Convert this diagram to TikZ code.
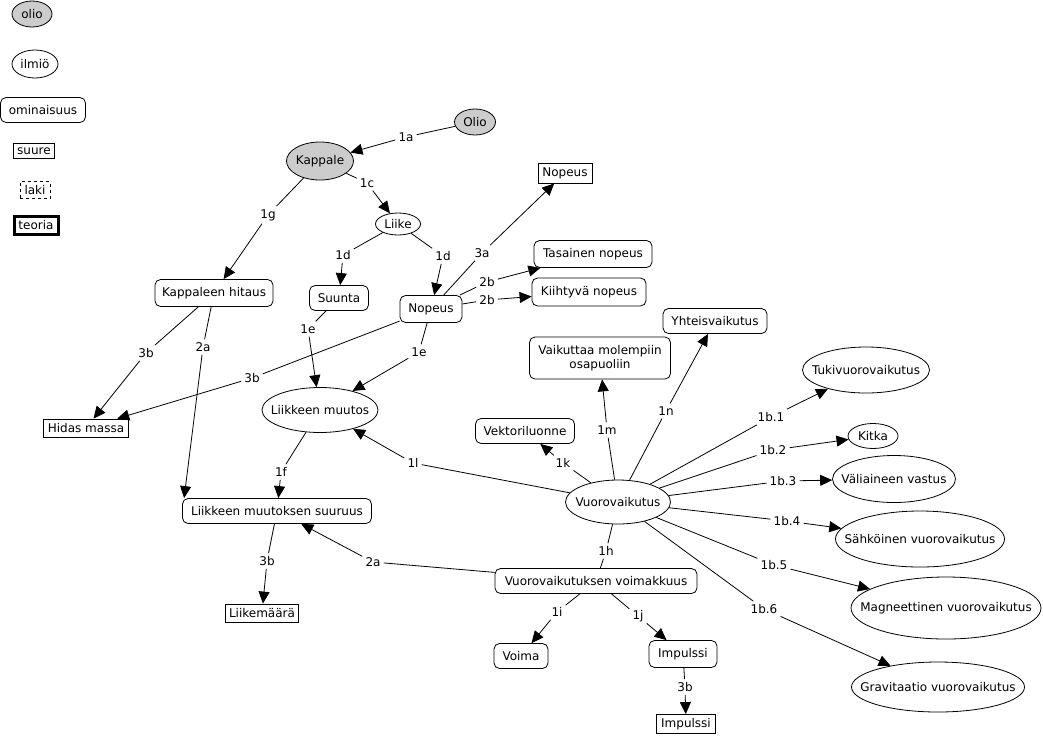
\documentclass[tikz,border=0pt]{standalone}
\usepackage{fontspec}
\setmainfont{DejaVu Sans}
\usetikzlibrary{arrows.meta,shapes.geometric,calc}
\definecolor{oliogray}{RGB}{204,204,204}
\newcommand\cedge[3]{\draw[ln] (#1) -- (#2); \draw[arr] (#2) -- (#3);}
\newcommand\ztext[1]{\makebox[0pt]{#1}}
\begin{document}
\begin{tikzpicture}[x=1pt,y=-1pt,
  every node/.style={font=\fontsize{12}{14}\selectfont},
  ell/.style={draw, ellipse, inner sep=0pt, line width=0.8pt},
  rbox/.style={draw, rounded corners=5.5pt, inner sep=0pt, line width=0.8pt},
  sbox/.style={draw, rectangle, inner sep=0pt, line width=0.8pt},
  lab/.style={inner sep=3pt},
  ln/.style={line width=0.8pt},
  arr/.style={line width=0.8pt, -{Triangle[length=12pt,width=11pt]}}]
\useasboundingbox[fill=white] (0,0) rectangle (1043,737);
% legend
\node[ell, fill=oliogray, minimum width=40pt, minimum height=26pt] (golio) at (32,14) {\ztext{olio}};
\node[ell, minimum width=46pt, minimum height=28pt] (gilmio) at (35,64) {\ztext{ilmiö}};
\node[rbox, minimum width=85pt, minimum height=25pt] (gomin) at (43,110) {ominaisuus};
\node[sbox, minimum width=41pt, minimum height=15pt] (gsuure) at (34,151) {suure};
\node[sbox, dashed, minimum width=30pt, minimum height=17pt] (glaki) at (35,190) {laki};
\node[sbox, line width=3pt, minimum width=44pt, minimum height=18pt] (gteoria) at (36,225) {teoria};
% concepts
\node[ell, fill=oliogray, minimum width=41pt, minimum height=26pt] (olio) at (475,122) {\ztext{Olio}};
\node[ell, fill=oliogray, minimum width=67pt, minimum height=38pt] (kappale) at (320,161) {\ztext{Kappale}};
\node[ell, minimum width=45pt, minimum height=22pt] (liike) at (398,224) {\ztext{Liike}};
\node[rbox, minimum width=118pt, minimum height=27pt] (khitaus) at (214,293) {Kappaleen hitaus};
\node[rbox, minimum width=59pt, minimum height=25pt] (suunta) at (339,298) {Suunta};
\node[rbox, minimum width=62pt, minimum height=27pt] (nopeus) at (431,309) {Nopeus};
\node[sbox, minimum width=54pt, minimum height=20pt] (nopeusq) at (565,173) {Nopeus};
\node[rbox, minimum width=118pt, minimum height=27pt] (tasainen) at (593,254) {Tasainen nopeus};
\node[rbox, minimum width=114pt, minimum height=28pt] (kiihtyva) at (589,292) {Kiihtyvä nopeus};
\node[rbox, minimum width=104pt, minimum height=25pt] (yhteis) at (715,321) {Yhteisvaikutus};
\node[rbox, align=center, minimum width=141pt, minimum height=42pt] (vaikuttaa) at (600,358) {Vaikuttaa molempiin\\osapuoliin};
\node[ell, minimum width=127pt, minimum height=46pt] (tuki) at (866,370) {\ztext{Tukivuorovaikutus}};
\node[ell, minimum width=50pt, minimum height=25pt] (kitka) at (873,436) {\ztext{Kitka}};
\node[ell, minimum width=123pt, minimum height=47pt] (vali) at (894,479) {\ztext{Väliaineen vastus}};
\node[ell, minimum width=169pt, minimum height=56pt] (sahko) at (920,539) {\ztext{Sähköinen vuorovaikutus}};
\node[ell, minimum width=190pt, minimum height=62pt] (magn) at (946,608) {\ztext{Magneettinen vuorovaikutus}};
\node[ell, minimum width=173pt, minimum height=50pt] (grav) at (938,687) {\ztext{Gravitaatio vuorovaikutus}};
\node[ell, minimum width=105pt, minimum height=44pt] (vv) at (618,502) {\ztext{Vuorovaikutus}};
\node[rbox, minimum width=99pt, minimum height=25pt] (vektori) at (525,431) {Vektoriluonne};
\node[rbox, minimum width=202pt, minimum height=25pt] (voimak) at (596,581) {Vuorovaikutuksen voimakkuus};
\node[rbox, minimum width=54pt, minimum height=25pt] (voima) at (521,656) {Voima};
\node[rbox, minimum width=68pt, minimum height=27pt] (impr) at (683,654) {Impulssi};
\node[sbox, minimum width=59pt, minimum height=19pt] (imps) at (686,724) {Impulssi};
\node[ell, minimum width=116pt, minimum height=45pt] (lmuutos) at (320,410) {\ztext{Liikkeen muutos}};
\node[sbox, minimum width=85pt, minimum height=18pt] (hidas) at (86,428) {Hidas massa};
\node[rbox, minimum width=189pt, minimum height=25pt] (lms) at (277,511) {Liikkeen muutoksen suuruus};
\node[sbox, minimum width=73pt, minimum height=18pt] (liikem) at (262,613) {Liikemäärä};
% linking phrases
\node[lab] (l1a) at (406,137) {1a};
\node[lab] (l1c) at (367,183) {1c};
\node[lab] (l1g) at (268,215) {1g};
\node[lab] (l1dA) at (343,255) {1d};
\node[lab] (l1dB) at (443,256) {1d};
\node[lab] (l3a) at (482,253) {3a};
\node[lab] (l2bA) at (487,282) {2b};
\node[lab] (l2bB) at (487,300) {2b};
\node[lab] (l1eA) at (308,329) {1e};
\node[lab] (l1eB) at (419,352) {1e};
\node[lab] (l3bA) at (146,353) {3b};
\node[lab] (l2aA) at (203,347) {2a};
\node[lab] (l3bB) at (252,378) {3b};
\node[lab] (l1f) at (281,472) {1f};
\node[lab] (l3bC) at (267,561) {3b};
\node[lab] (l2aB) at (373,562) {2a};
\node[lab] (l1l) at (413,463) {1l};
\node[lab] (l1k) at (563,463) {1k};
\node[lab] (l1m) at (607,430) {1m};
\node[lab] (l1n) at (666,411) {1n};
\node[lab] (l1b1) at (771,417) {1b.1};
\node[lab] (l1b2) at (773,450) {1b.2};
\node[lab] (l1b3) at (783,481) {1b.3};
\node[lab] (l1b4) at (787,521) {1b.4};
\node[lab] (l1b5) at (774,565) {1b.5};
\node[lab] (l1b6) at (764,609) {1b.6};
\node[lab] (l1h) at (606,551) {1h};
\node[lab] (l1i) at (557,612) {1i};
\node[lab] (l1j) at (638,616) {1j};
\node[lab] (l3bD) at (685,687) {3b};
% connectors
\cedge{olio}{l1a}{kappale}
\cedge{kappale}{l1c}{liike}
\cedge{kappale}{l1g}{khitaus}
\cedge{liike}{l1dA}{suunta}
\cedge{liike}{l1dB}{nopeus}
\cedge{nopeus}{l3a}{nopeusq}
\cedge{nopeus}{l2bA}{tasainen}
\cedge{nopeus}{l2bB}{kiihtyva}
\cedge{suunta}{l1eA}{lmuutos}
\cedge{nopeus}{l1eB}{lmuutos}
\cedge{khitaus}{l3bA}{hidas}
\draw[ln] (khitaus) -- (l2aA);
\draw[arr] (l2aA) -- ([xshift=2pt]lms.north west);
\cedge{nopeus}{l3bB}{hidas}
\cedge{lmuutos}{l1f}{lms}
\cedge{lms}{l3bC}{liikem}
\cedge{voimak}{l2aB}{lms}
\cedge{vv}{l1l}{lmuutos}
\cedge{vv}{l1k}{vektori}
\cedge{vv}{l1m}{vaikuttaa}
\cedge{vv}{l1n}{yhteis}
\cedge{vv}{l1b1}{tuki}
\cedge{vv}{l1b2}{kitka}
\cedge{vv}{l1b3}{vali}
\cedge{vv}{l1b4}{sahko}
\cedge{vv}{l1b5}{magn}
\cedge{vv}{l1b6}{grav}
\draw[ln] (vv) -- (l1h) -- (voimak);
\cedge{voimak}{l1i}{voima}
\cedge{voimak}{l1j}{impr}
\cedge{impr}{l3bD}{imps}
\end{tikzpicture}
\end{document}
